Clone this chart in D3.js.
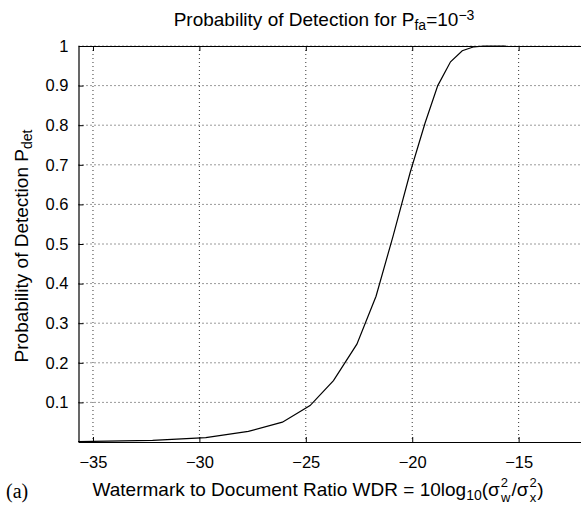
<!DOCTYPE html>
<html>
<head>
<meta charset="utf-8">
<script src="https://cdn.jsdelivr.net/npm/d3@7"></script>
<style>
  body { margin: 0; background: #fff; }
  text { font-family: "Liberation Sans", Arial, sans-serif; fill: #000; }
</style>
</head>
<body>
<script>
// WDR (dB) and probability of detection
var wdr  = [-35.7, -32.2, -29.7, -27.7, -26.1, -24.8, -23.7, -22.6, -21.7, -20.9, -20.1, -19.4, -18.8, -18.2, -17.65, -17.1, -16.6, -16.1, -15.6];
var pdet = [0.001, 0.004, 0.011, 0.027, 0.05, 0.092, 0.155, 0.247, 0.368, 0.52, 0.68, 0.805, 0.9, 0.96, 0.988, 0.998, 1.0, 1.0, 1.0];
var xTicks = [-35, -30, -25, -20, -15];
var yTicks = [0.1, 0.2, 0.3, 0.4, 0.5, 0.6, 0.7, 0.8, 0.9, 1];

var W = 581, H = 505;
var pLeft = 78.5, pRight = 581, pTop = 46, pBottom = 442;

var svg = d3.select("body").append("svg")
    .attr("width", W)
    .attr("height", H);

var x = d3.scaleLinear().domain([-35.68, -12.07]).range([pLeft, pRight]);
var y = d3.scaleLinear().domain([0, 1]).range([pBottom, pTop]);

// grid
svg.selectAll(".gx").data(xTicks).enter().append("line")
    .attr("x1", function(d) { return x(d); }).attr("x2", function(d) { return x(d); })
    .attr("y1", pTop).attr("y2", pBottom)
    .attr("stroke", "#000").attr("stroke-width", 0.8)
    .attr("stroke-dasharray", "1,3");
svg.selectAll(".gy").data(yTicks).enter().append("line")
    .attr("x1", pLeft).attr("x2", pRight)
    .attr("y1", function(d) { return y(d); }).attr("y2", function(d) { return y(d); })
    .attr("stroke", "#000").attr("stroke-width", 0.8)
    .attr("stroke-dasharray", "1,3");

// axes (ticks inward, MATLAB style)
svg.append("g").attr("transform", "translate(0," + pBottom + ")")
    .call(d3.axisBottom(x).tickValues(xTicks).tickSizeInner(-5).tickSizeOuter(0).tickPadding(14)
        .tickFormat(function(d) { return "\u2212" + Math.abs(d); }));
svg.append("g").attr("transform", "translate(0," + pTop + ")")
    .call(d3.axisTop(x).tickValues(xTicks).tickSizeInner(-5).tickSizeOuter(0).tickFormat(""));
svg.append("g").attr("transform", "translate(" + pLeft + ",0)")
    .call(d3.axisLeft(y).tickValues(yTicks).tickSizeInner(-5).tickSizeOuter(0).tickPadding(10)
        .tickFormat(function(d) { return d === 1 ? "1" : d3.format(".1f")(d); }));

svg.selectAll(".domain").attr("stroke", "#000").attr("stroke-width", 1.2);
svg.selectAll(".tick line").attr("stroke", "#000");
svg.selectAll(".tick text").style("font-size", "16.5px").style("font-family", "'Liberation Sans', Arial, sans-serif");

// curve
var line = d3.line()
    .x(function(d, i) { return x(wdr[i]); })
    .y(function(d) { return y(d); });
svg.append("path")
    .datum(pdet)
    .attr("d", line)
    .attr("fill", "none")
    .attr("stroke", "#000")
    .attr("stroke-width", 1.2);

// title
var t = svg.append("text")
    .attr("x", 324).attr("y", 26)
    .attr("text-anchor", "middle")
    .style("font-size", "19px");
t.append("tspan").text("Probability of Detection for P");
t.append("tspan").attr("baseline-shift", "-30%").style("font-size", "14px").text("fa");
t.append("tspan").text("=10");
t.append("tspan").attr("baseline-shift", "45%").style("font-size", "14px").text("\u22123");

// x label
var xlab = svg.append("text")
    .attr("x", 318).attr("y", 496)
    .attr("text-anchor", "middle")
    .style("font-size", "19px");
xlab.append("tspan").text("Watermark to Document Ratio WDR = 10log");
xlab.append("tspan").attr("baseline-shift", "-30%").style("font-size", "14px").text("10");
xlab.append("tspan").text("(\u03c3");
xlab.append("tspan").attr("dx", 1).attr("dy", -9).style("font-size", "13px").text("2");
xlab.append("tspan").attr("dx", -7).attr("dy", 15).style("font-size", "13px").text("w");
xlab.append("tspan").attr("dx", 1).attr("dy", -6).text("/\u03c3");
xlab.append("tspan").attr("dx", 1).attr("dy", -9).style("font-size", "13px").text("2");
xlab.append("tspan").attr("dx", -7).attr("dy", 15).style("font-size", "13px").text("x");
xlab.append("tspan").attr("dx", 1).attr("dy", -6).text(")");

// y label
var ylab = svg.append("text")
    .attr("transform", "translate(28,246) rotate(-90)")
    .attr("text-anchor", "middle")
    .style("font-size", "19px");
ylab.append("tspan").text("Probability of Detection P");
ylab.append("tspan").attr("baseline-shift", "-30%").style("font-size", "14px").text("det");

// panel label
svg.append("text")
    .attr("x", 6).attr("y", 498)
    .style("font-family", "'Liberation Serif', 'Times New Roman', serif")
    .style("font-size", "20px")
    .text("(a)");
</script>
</body>
</html>
